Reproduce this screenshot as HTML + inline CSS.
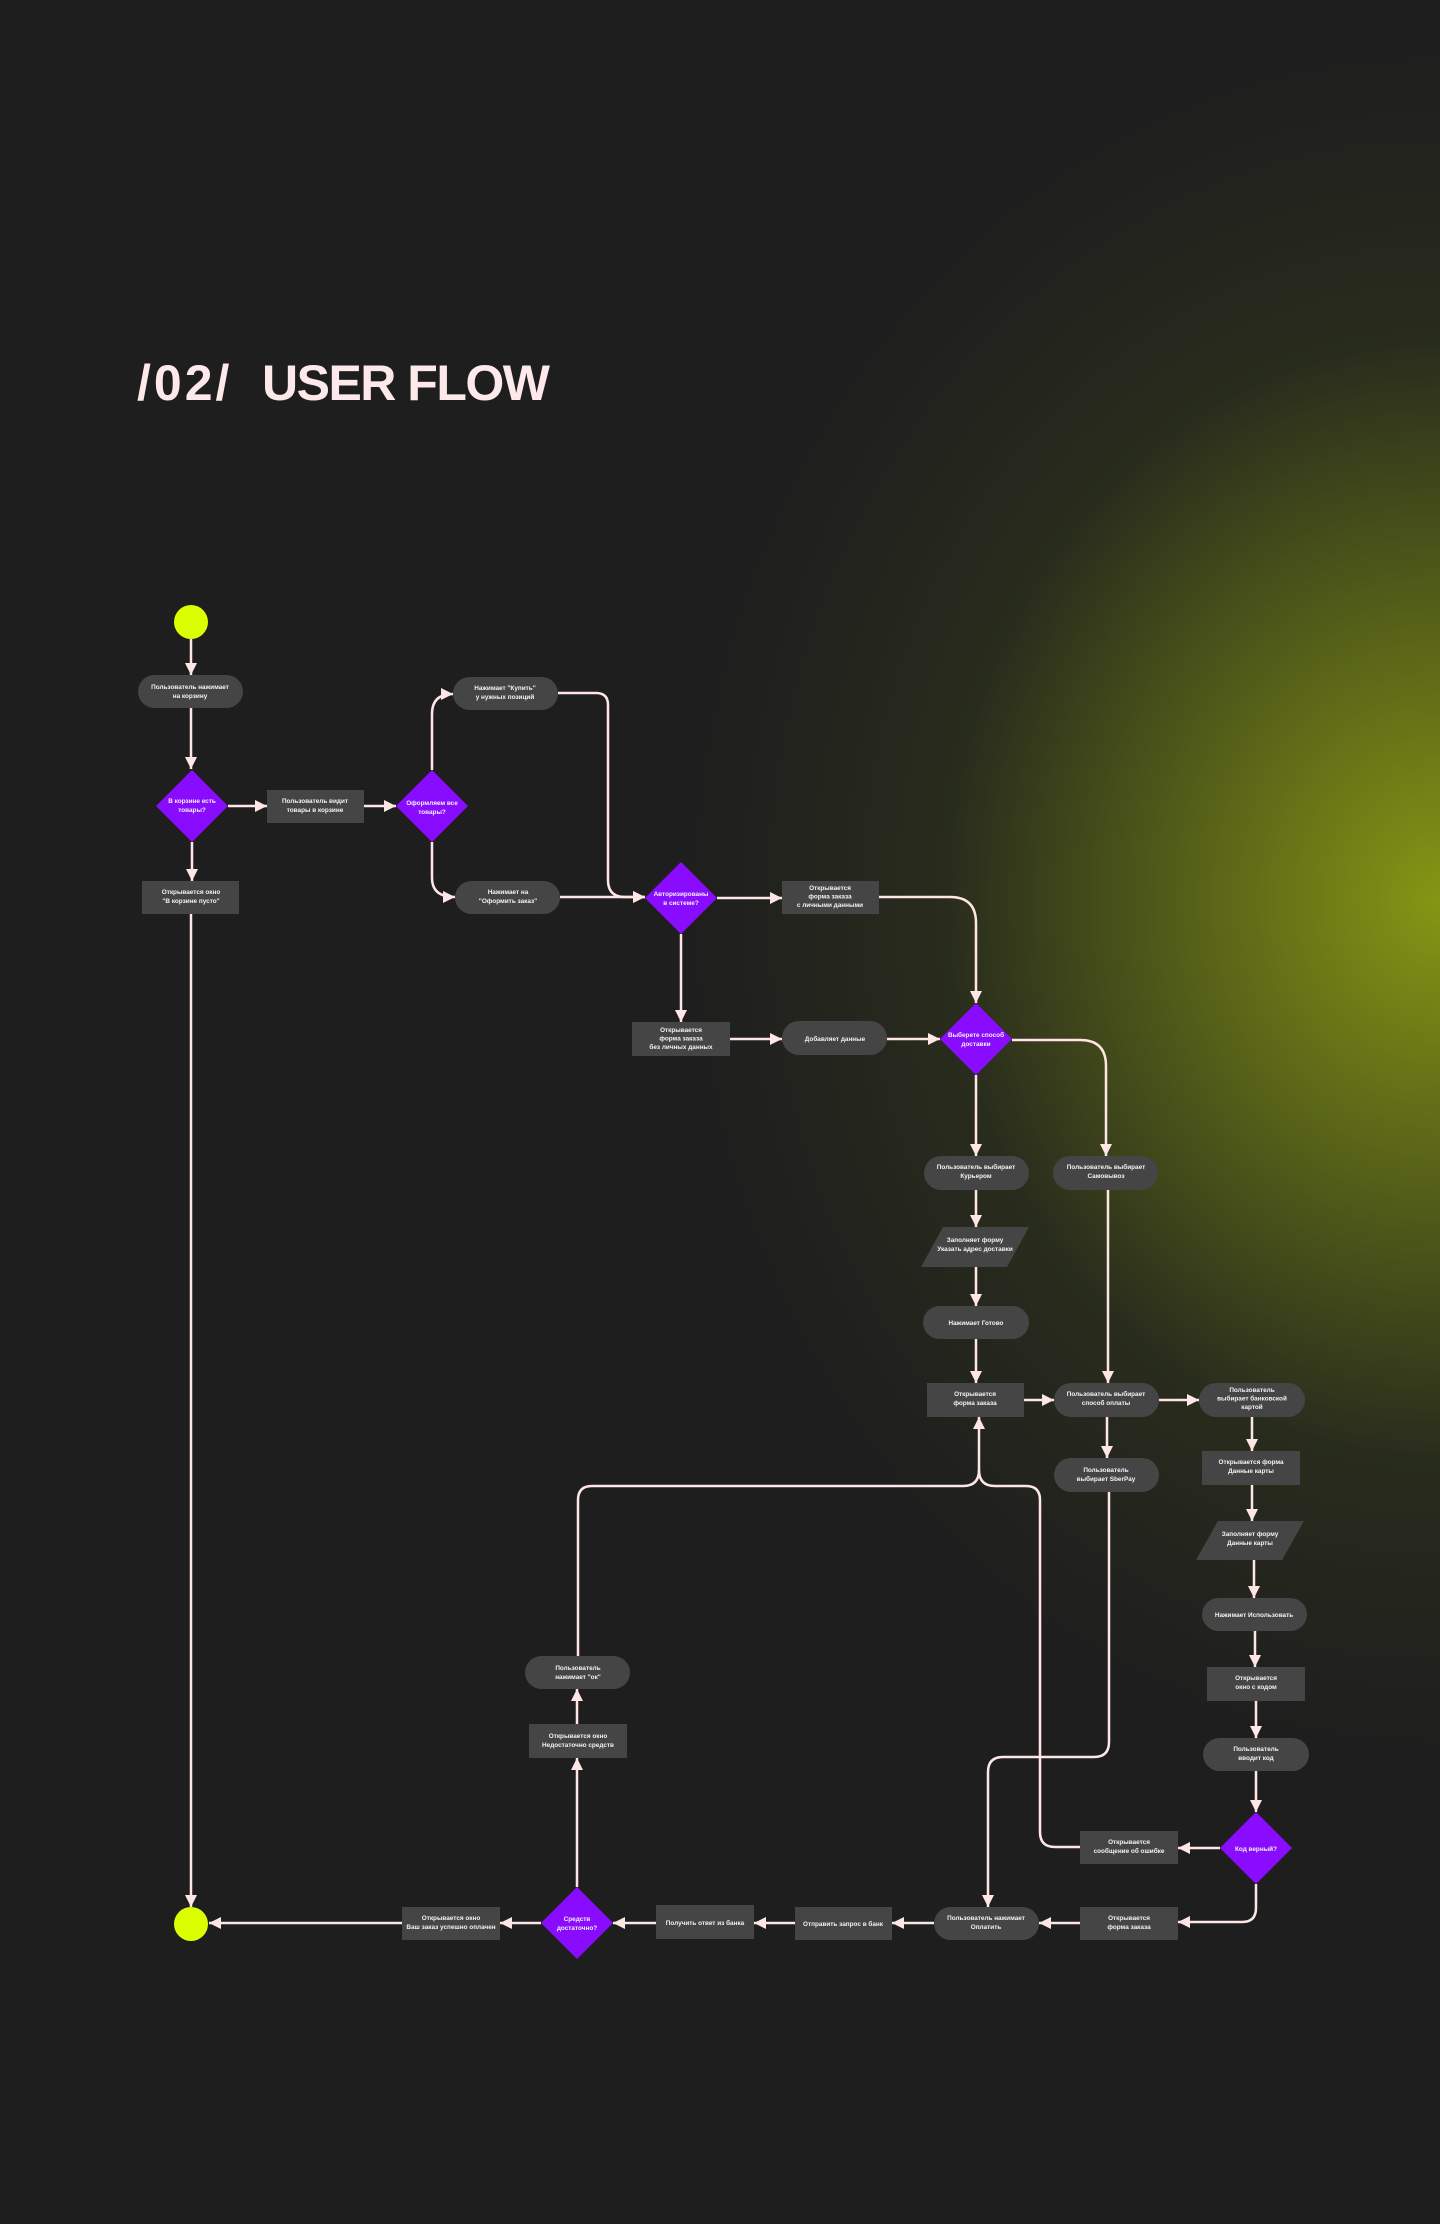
<!DOCTYPE html>
<html><head><meta charset="utf-8"><style>
html,body{margin:0;padding:0;}
body{width:1440px;height:2224px;overflow:hidden;background:#1e1e1e;position:relative;}
.bg{position:absolute;left:0;top:0;width:1440px;height:2224px;
background:radial-gradient(ellipse 760px 860px at 1440px 900px, rgba(133,150,20,1) 0%, rgba(110,125,22,0.75) 30%, rgba(60,70,25,0.35) 65%, rgba(30,30,30,0) 100%);}
.t{position:absolute;top:354px;margin:0;font-family:"Liberation Sans",sans-serif;font-weight:bold;font-size:50px;color:#fde8ea;white-space:pre;}
svg{position:absolute;left:0;top:0;}
text{font-family:"Liberation Sans","Noto Sans CJK SC",sans-serif;font-size:6.4px;font-weight:bold;fill:#f2f2f2;text-anchor:middle;}
</style></head><body>
<div class="bg"></div>
<div class="t" style="left:137px;letter-spacing:3px;">/02/</div>
<div class="t" style="left:262px;letter-spacing:-1.5px;">USER FLOW</div>
<svg width="1440" height="2224" viewBox="0 0 1440 2224">
<defs>
<marker id="a" markerUnits="userSpaceOnUse" markerWidth="14" markerHeight="14" refX="12" refY="7" orient="auto">
<path d="M0,1 L12,7 L0,13 Z" fill="#ffe6e6"/></marker>
</defs>
<g fill="none" stroke="#ffe6e6" stroke-width="2.5">
<path d="M191 639 V675" marker-end="url(#a)"/>
<path d="M191 708 V769" marker-end="url(#a)"/>
<path d="M228 806 H267" marker-end="url(#a)"/>
<path d="M364 806 H396" marker-end="url(#a)"/>
<path d="M192 842 V881" marker-end="url(#a)"/>
<path d="M432 770 V714 Q432 694 453 694" marker-end="url(#a)"/>
<path d="M432 842 V878 Q432 897 455 897" marker-end="url(#a)"/>
<path d="M558 693 H596 Q608 693 608 705 V880 Q608 897 625 897 H645" marker-end="url(#a)"/>
<path d="M560 897 H645" marker-end="url(#a)"/>
<path d="M717 898 H782" marker-end="url(#a)"/>
<path d="M681 934 V1022" marker-end="url(#a)"/>
<path d="M730 1039 H782" marker-end="url(#a)"/>
<path d="M887 1039 H940" marker-end="url(#a)"/>
<path d="M879 897 H950 Q976 897 976 923 V1003" marker-end="url(#a)"/>
<path d="M1012 1040 H1080 Q1106 1040 1106 1066 V1156" marker-end="url(#a)"/>
<path d="M976 1075 V1156" marker-end="url(#a)"/>
<path d="M976 1190 V1227" marker-end="url(#a)"/>
<path d="M976 1267 V1306" marker-end="url(#a)"/>
<path d="M976 1339 V1383" marker-end="url(#a)"/>
<path d="M1108 1190 V1383" marker-end="url(#a)"/>
<path d="M1024 1400 H1054" marker-end="url(#a)"/>
<path d="M1159 1400 H1199" marker-end="url(#a)"/>
<path d="M1107 1417 V1458" marker-end="url(#a)"/>
<path d="M1252 1417 V1451" marker-end="url(#a)"/>
<path d="M1252 1485 V1521" marker-end="url(#a)"/>
<path d="M1254 1560 V1598" marker-end="url(#a)"/>
<path d="M1255 1631 V1667" marker-end="url(#a)"/>
<path d="M1256 1701 V1738" marker-end="url(#a)"/>
<path d="M1256 1771 V1812" marker-end="url(#a)"/>
<path d="M1220 1848 H1178" marker-end="url(#a)"/>
<path d="M1256 1884 V1908 Q1256 1922 1242 1922 H1178" marker-end="url(#a)"/>
<path d="M1080 1923 H1039" marker-end="url(#a)"/>
<path d="M1109 1492 V1742 Q1109 1757 1094 1757 H1003 Q988 1757 988 1772 V1907" marker-end="url(#a)"/>
<path d="M1080 1847 H1055 Q1040 1847 1040 1832 V1500 Q1040 1486 1026 1486 H995 Q979 1486 979 1470 V1417" marker-end="url(#a)"/>
<path d="M578 1656 V1500 Q578 1486 592 1486 H963 Q979 1486 979 1470"/>
<path d="M934 1923 H892" marker-end="url(#a)"/>
<path d="M795 1923 H754" marker-end="url(#a)"/>
<path d="M656 1923 H613" marker-end="url(#a)"/>
<path d="M541 1923 H500" marker-end="url(#a)"/>
<path d="M402 1923 H209" marker-end="url(#a)"/>
<path d="M577 1887 V1758" marker-end="url(#a)"/>
<path d="M577 1724 V1689" marker-end="url(#a)"/>
<path d="M191 914 V1907" marker-end="url(#a)"/>
</g>
<g fill="#dcff00"><circle cx="191" cy="622" r="17"/><circle cx="191" cy="1924" r="17"/></g>
<g fill="#454545">
<rect x="138" y="675" width="105" height="33" rx="16.5"/>
<rect x="267" y="790" width="97" height="33"/>
<rect x="453" y="677" width="105" height="33" rx="16.5"/>
<rect x="455" y="881" width="105" height="33" rx="16.5"/>
<rect x="142" y="881" width="97" height="33"/>
<rect x="782" y="881" width="97" height="33"/>
<rect x="632" y="1022" width="98" height="34"/>
<rect x="782" y="1021" width="105" height="34" rx="17"/>
<rect x="924" y="1156" width="105" height="34" rx="17"/>
<rect x="1053" y="1156" width="105" height="34" rx="17"/>
<polygon points="943,1227 1029,1227 1007,1267 921,1267"/>
<rect x="923" y="1306" width="106" height="33" rx="16.5"/>
<rect x="927" y="1383" width="97" height="34"/>
<rect x="1054" y="1383" width="105" height="34" rx="17"/>
<rect x="1199" y="1383" width="106" height="34" rx="17"/>
<rect x="1054" y="1458" width="105" height="34" rx="17"/>
<rect x="1202" y="1451" width="98" height="34"/>
<polygon points="1218,1521 1304,1521 1282,1560 1196,1560"/>
<rect x="1202" y="1598" width="105" height="33" rx="16.5"/>
<rect x="1207" y="1667" width="98" height="34"/>
<rect x="1203" y="1738" width="106" height="33" rx="16.5"/>
<rect x="1080" y="1831" width="98" height="33"/>
<rect x="1080" y="1907" width="98" height="33"/>
<rect x="934" y="1907" width="105" height="33" rx="16.5"/>
<rect x="795" y="1907" width="97" height="33"/>
<rect x="656" y="1905" width="98" height="34"/>
<rect x="402" y="1907" width="98" height="33"/>
<rect x="529" y="1724" width="98" height="34"/>
<rect x="525" y="1656" width="105" height="33" rx="16.5"/>
</g>
<g fill="#8a0cff">
<polygon points="192,770 228,806 192,842 156,806"/>
<polygon points="432,770 468,806 432,842 396,806"/>
<polygon points="681,862 717,898 681,934 645,898"/>
<polygon points="976,1003 1012,1039 976,1075 940,1039"/>
<polygon points="1256,1812 1292,1848 1256,1884 1220,1848"/>
<polygon points="577,1887 613,1923 577,1959 541,1923"/>
</g>
<g>
<text x="190" y="689">Пользователь нажимает<tspan x="190" dy="9">на корзину</tspan></text>
<text x="192" y="803">В корзине есть<tspan x="192" dy="9">товары?</tspan></text>
<text x="315" y="803">Пользователь видит<tspan x="315" dy="9">товары в корзине</tspan></text>
<text x="432" y="805">Оформляем все<tspan x="432" dy="9">товары?</tspan></text>
<text x="505" y="690">Нажимает "Купить"<tspan x="505" dy="9">у нужных позиций</tspan></text>
<text x="508" y="894">Нажимает на<tspan x="508" dy="9">"Оформить заказ"</tspan></text>
<text x="191" y="894">Открывается окно<tspan x="191" dy="9">"В корзине пусто"</tspan></text>
<text x="681" y="896">Авторизированы<tspan x="681" dy="9">в системе?</tspan></text>
<text x="830" y="890">Открывается<tspan x="830" dy="8.5">форма заказа</tspan><tspan x="830" dy="8.5">с личными данными</tspan></text>
<text x="681" y="1032">Открывается<tspan x="681" dy="8.5">форма заказа</tspan><tspan x="681" dy="8.5">без личных данных</tspan></text>
<text x="835" y="1041">Добавляет данные</text>
<text x="976" y="1037">Выберете способ<tspan x="976" dy="9">доставки</tspan></text>
<text x="976" y="1169">Пользователь выбирает<tspan x="976" dy="9">Курьером</tspan></text>
<text x="1106" y="1169">Пользователь выбирает<tspan x="1106" dy="9">Самовывоз</tspan></text>
<text x="975" y="1242">Заполняет форму<tspan x="975" dy="9">Указать адрес доставки</tspan></text>
<text x="976" y="1325">Нажимает Готово</text>
<text x="975" y="1396">Открывается<tspan x="975" dy="9">форма заказа</tspan></text>
<text x="1106" y="1396">Пользователь выбирает<tspan x="1106" dy="9">способ оплаты</tspan></text>
<text x="1252" y="1392">Пользователь<tspan x="1252" dy="8.5">выбирает банковской</tspan><tspan x="1252" dy="8.5">картой</tspan></text>
<text x="1251" y="1464">Открывается форма<tspan x="1251" dy="9">Данные карты</tspan></text>
<text x="1106" y="1472">Пользователь<tspan x="1106" dy="9">выбирает SberPay</tspan></text>
<text x="1250" y="1536">Заполняет форму<tspan x="1250" dy="9">Данные карты</tspan></text>
<text x="1254" y="1617">Нажимает Использовать</text>
<text x="1256" y="1680">Открывается<tspan x="1256" dy="9">окно с кодом</tspan></text>
<text x="1256" y="1751">Пользователь<tspan x="1256" dy="9">вводит код</tspan></text>
<text x="1256" y="1851">Код верный?</text>
<text x="1129" y="1844">Открывается<tspan x="1129" dy="9">сообщение об ошибке</tspan></text>
<text x="1129" y="1920">Открывается<tspan x="1129" dy="9">форма заказа</tspan></text>
<text x="986" y="1920">Пользователь нажимает<tspan x="986" dy="9">Оплатить</tspan></text>
<text x="843" y="1926">Отправить запрос в банк</text>
<text x="705" y="1925">Получить ответ из банка</text>
<text x="577" y="1921">Средств<tspan x="577" dy="9">достаточно?</tspan></text>
<text x="451" y="1920">Открывается окно<tspan x="451" dy="9">Ваш заказ успешно оплачен</tspan></text>
<text x="578" y="1738">Открывается окно<tspan x="578" dy="9">Недостаточно средств</tspan></text>
<text x="578" y="1670">Пользователь<tspan x="578" dy="9">нажимает "ок"</tspan></text>
</g>
</svg>
</body></html>
